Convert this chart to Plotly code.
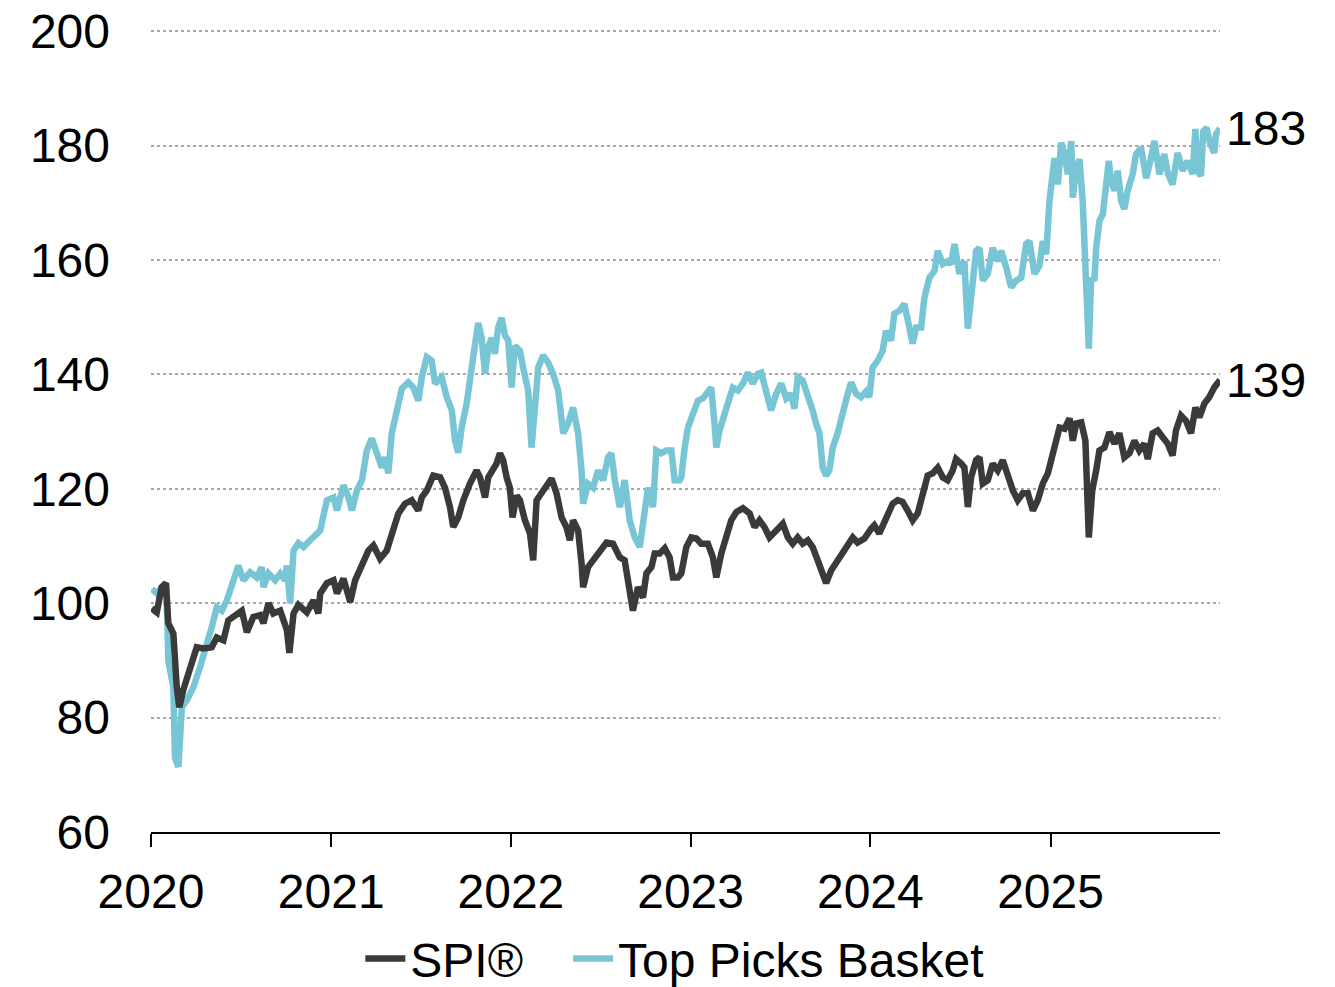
import plotly.graph_objects as go
import pandas as pd

# time positions as fractional years since 2020-01-01, values indexed to 100
spi_years = [
    0.004, 0.032, 0.059, 0.083, 0.096, 0.124, 0.143, 0.157, 0.179, 0.217,
    0.254, 0.291, 0.337, 0.365, 0.402, 0.429, 0.476, 0.504, 0.532, 0.568,
    0.606, 0.624, 0.652, 0.679, 0.717, 0.754, 0.768, 0.791, 0.818, 0.865,
    0.902, 0.929, 0.939, 0.976, 1.013, 1.032, 1.068, 1.106, 1.133, 1.171,
    1.207, 1.235, 1.272, 1.309, 1.337, 1.374, 1.411, 1.448, 1.485, 1.504,
    1.532, 1.568, 1.606, 1.633, 1.661, 1.679, 1.707, 1.735, 1.772, 1.809,
    1.828, 1.856, 1.874, 1.902, 1.920, 1.939, 1.957, 1.976, 1.994, 2.009,
    2.032, 2.050, 2.078, 2.106, 2.124, 2.143, 2.171, 2.198, 2.226, 2.254,
    2.282, 2.309, 2.328, 2.346, 2.374, 2.393, 2.402, 2.429, 2.457, 2.494,
    2.532, 2.568, 2.606, 2.633, 2.661, 2.679, 2.707, 2.735, 2.754, 2.782,
    2.800, 2.828, 2.856, 2.883, 2.902, 2.929, 2.948, 2.976, 3.004, 3.032,
    3.059, 3.096, 3.124, 3.143, 3.171, 3.198, 3.226, 3.254, 3.291, 3.328,
    3.356, 3.383, 3.411, 3.439, 3.476, 3.513, 3.541, 3.568, 3.596, 3.624,
    3.652, 3.679, 3.707, 3.735, 3.754, 3.782, 3.809, 3.846, 3.874, 3.902,
    3.929, 3.967, 4.004, 4.022, 4.050, 4.087, 4.124, 4.152, 4.179, 4.207,
    4.235, 4.263, 4.291, 4.318, 4.346, 4.374, 4.402, 4.429, 4.457, 4.476,
    4.504, 4.522, 4.541, 4.559, 4.587, 4.606, 4.624, 4.652, 4.679, 4.707,
    4.735, 4.763, 4.791, 4.818, 4.846, 4.874, 4.902, 4.929, 4.957, 4.985,
    5.013, 5.041, 5.050, 5.078, 5.106, 5.124, 5.143, 5.171, 5.194, 5.213,
    5.232, 5.254, 5.272, 5.300, 5.328, 5.356, 5.383, 5.411, 5.439, 5.467,
    5.494, 5.522, 5.541, 5.568, 5.596, 5.624, 5.652, 5.679, 5.698, 5.726,
    5.754, 5.782, 5.806, 5.828, 5.856, 5.883, 5.911, 5.943,
]
spi_values = [
    99.1, 98.4, 102.8, 103.5, 96.5, 94.7, 85.3, 81.8, 84.8, 88.8,
    92.3, 92.1, 92.3, 94.0, 93.5, 97.0, 98.2, 98.7, 94.9, 97.6,
    97.9, 96.5, 100.0, 98.2, 98.7, 95.3, 91.3, 98.2, 99.7, 98.4,
    100.5, 98.2, 101.7, 103.5, 104.0, 101.7, 104.3, 100.2, 104.0, 107.0,
    109.2, 110.1, 107.8, 109.2, 112.2, 115.7, 117.4, 118.0, 116.2, 118.5,
    119.7, 122.3, 122.0, 120.2, 116.8, 113.3, 115.0, 118.0, 120.9, 123.2,
    122.0, 118.5, 122.0, 123.7, 124.4, 126.2, 125.0, 122.0, 120.2, 115.0,
    118.8, 118.0, 114.5, 112.2, 107.5, 118.0, 119.2, 120.2, 121.8, 119.2,
    115.0, 113.3, 111.0, 114.5, 112.7, 107.0, 102.8, 106.3, 107.5, 109.2,
    110.6, 110.4, 108.0, 107.5, 102.8, 98.7, 102.8, 101.0, 105.2, 106.3,
    108.7, 108.7, 109.6, 108.0, 104.5, 104.5, 105.2, 109.8, 111.5, 111.3,
    110.4, 110.4, 108.0, 104.5, 108.7, 111.5, 114.5, 115.9, 116.6, 115.7,
    113.3, 114.5, 113.3, 111.5, 112.7, 113.9, 111.5, 110.4, 111.5, 110.4,
    111.0, 109.8, 107.5, 105.2, 103.5, 105.7, 107.0, 108.7, 110.4, 111.5,
    110.6, 111.3, 113.0, 113.6, 112.2, 114.5, 117.4, 118.0, 117.7, 116.2,
    114.5, 115.7, 119.2, 122.3, 122.7, 123.7, 122.0, 121.5, 123.2, 125.2,
    124.4, 123.7, 116.8, 122.0, 125.0, 125.5, 120.9, 121.5, 124.4, 123.2,
    125.0, 122.0, 119.7, 118.0, 119.2, 119.2, 116.2, 118.0, 120.9, 122.7,
    126.5, 129.7, 130.7, 130.5, 132.3, 128.4, 131.4, 131.6, 128.4, 111.5,
    119.7, 123.2, 126.7, 127.2, 129.9, 127.9, 129.7, 125.5, 126.2, 128.4,
    126.7, 127.9, 125.2, 129.7, 130.2, 129.0, 127.9, 125.8, 130.2, 132.8,
    131.9, 129.7, 134.2, 132.5, 134.9, 136.0, 137.7, 139.0,
]

top_years = [
    0.004, 0.032, 0.068, 0.083, 0.091, 0.096, 0.124, 0.133, 0.152, 0.161,
    0.171, 0.198, 0.235, 0.272, 0.309, 0.337, 0.365, 0.393, 0.421, 0.457,
    0.485, 0.513, 0.550, 0.587, 0.615, 0.624, 0.652, 0.689, 0.717, 0.744,
    0.754, 0.772, 0.791, 0.818, 0.846, 0.883, 0.921, 0.939, 0.976, 1.013,
    1.032, 1.068, 1.096, 1.115, 1.143, 1.171, 1.198, 1.226, 1.254, 1.282,
    1.300, 1.318, 1.337, 1.365, 1.393, 1.429, 1.457, 1.485, 1.504, 1.532,
    1.559, 1.578, 1.615, 1.643, 1.671, 1.689, 1.707, 1.726, 1.754, 1.782,
    1.800, 1.818, 1.837, 1.856, 1.874, 1.893, 1.911, 1.929, 1.948, 1.967,
    1.985, 2.004, 2.022, 2.050, 2.068, 2.096, 2.115, 2.133, 2.152, 2.179,
    2.207, 2.235, 2.263, 2.291, 2.318, 2.346, 2.374, 2.393, 2.402, 2.429,
    2.457, 2.485, 2.513, 2.541, 2.559, 2.578, 2.606, 2.633, 2.661, 2.689,
    2.717, 2.735, 2.763, 2.791, 2.809, 2.837, 2.865, 2.893, 2.911, 2.939,
    2.948, 2.967, 2.985, 3.013, 3.041, 3.068, 3.096, 3.115, 3.133, 3.143,
    3.161, 3.179, 3.207, 3.235, 3.263, 3.291, 3.318, 3.346, 3.374, 3.393,
    3.421, 3.448, 3.476, 3.504, 3.532, 3.559, 3.578, 3.596, 3.624, 3.652,
    3.679, 3.698, 3.717, 3.735, 3.754, 3.772, 3.791, 3.818, 3.846, 3.874,
    3.893, 3.921, 3.948, 3.976, 3.994, 4.013, 4.041, 4.068, 4.087, 4.115,
    4.133, 4.161, 4.189, 4.207, 4.235, 4.254, 4.282, 4.300, 4.328, 4.356,
    4.374, 4.402, 4.429, 4.448, 4.467, 4.494, 4.522, 4.541, 4.559, 4.587,
    4.606, 4.624, 4.652, 4.679, 4.707, 4.726, 4.754, 4.782, 4.809, 4.837,
    4.865, 4.883, 4.911, 4.939, 4.957, 4.976, 4.994, 5.022, 5.041, 5.059,
    5.078, 5.096, 5.115, 5.124, 5.143, 5.161, 5.179, 5.198, 5.213, 5.226,
    5.244, 5.254, 5.272, 5.291, 5.309, 5.324, 5.337, 5.356, 5.374, 5.393,
    5.411, 5.429, 5.457, 5.476, 5.504, 5.532, 5.559, 5.578, 5.606, 5.633,
    5.652, 5.679, 5.707, 5.735, 5.763, 5.791, 5.806, 5.818, 5.837, 5.850,
    5.868, 5.887, 5.911, 5.921, 5.943,
]
top_values = [
    102.5, 101.7, 103.0, 103.5, 97.0, 90.0, 85.3, 73.0, 71.4, 77.3,
    81.8, 83.0, 85.3, 88.8, 92.3, 95.8, 99.3, 98.7, 100.5, 103.5,
    106.6, 104.0, 105.4, 104.5, 106.3, 102.8, 105.2, 104.0, 105.2, 104.0,
    106.6, 100.0, 109.2, 110.5, 109.8, 111.0, 112.2, 112.7, 118.0, 118.5,
    116.2, 120.6, 118.5, 116.2, 119.7, 121.5, 126.7, 128.8, 126.2, 123.7,
    125.5, 122.7, 129.7, 134.2, 137.5, 138.6, 137.7, 135.4, 139.5, 143.0,
    142.4, 138.4, 139.5, 136.0, 133.7, 128.4, 126.3, 130.7, 134.9, 141.2,
    145.9, 149.0, 146.4, 140.1, 144.7, 146.4, 143.6, 148.2, 149.9, 146.8,
    145.9, 137.7, 145.0, 144.1, 141.2, 137.2, 127.2, 133.7, 141.2, 143.3,
    142.1, 140.1, 137.2, 129.7, 131.4, 134.2, 129.7, 123.2, 117.4, 120.9,
    120.2, 123.2, 121.5, 125.5, 126.2, 121.5, 116.8, 121.5, 114.5, 111.5,
    109.8, 113.9, 120.2, 116.8, 126.7, 126.2, 126.7, 126.7, 121.5, 121.5,
    122.0, 127.2, 130.7, 133.1, 135.4, 135.8, 136.8, 137.7, 131.4, 127.2,
    130.2, 132.5, 134.9, 137.7, 137.2, 138.4, 140.3, 138.4, 140.1, 140.3,
    137.2, 133.7, 136.6, 138.4, 135.8, 136.6, 134.0, 139.5, 138.9, 136.6,
    133.7, 131.4, 129.7, 123.7, 122.3, 123.2, 127.2, 129.7, 133.7, 136.6,
    138.6, 136.6, 136.0, 137.0, 136.0, 141.2, 142.4, 144.1, 147.6, 145.9,
    150.6, 151.1, 152.3, 149.4, 145.4, 148.2, 148.2, 153.4, 156.9, 158.1,
    161.6, 159.3, 159.8, 159.3, 162.8, 157.6, 159.8, 148.0, 154.1, 161.6,
    162.1, 156.4, 157.6, 162.1, 159.8, 161.6, 158.7, 155.2, 156.4, 156.9,
    162.8, 163.3, 157.6, 159.0, 163.3, 161.0, 170.3, 177.8, 173.2, 180.5,
    178.5, 175.0, 180.8, 170.9, 176.1, 177.6, 170.3, 158.7, 144.5, 156.9,
    156.4, 162.1, 166.8, 168.0, 174.3, 177.3, 173.8, 172.1, 175.6, 170.3,
    168.9, 172.1, 175.0, 178.5, 179.6, 174.3, 177.8, 180.8, 175.0, 178.5,
    175.2, 173.2, 178.7, 175.6, 177.3, 175.0, 182.9, 175.6, 174.7, 182.5,
    183.1, 180.5, 178.7, 182.0, 183.0,
]

y_ticks = [60, 80, 100, 120, 140, 160, 180, 200]
year_ticks = ["2020", "2021", "2022", "2023", "2024", "2025"]

SPI_COLOR = "#3a3b39"
TOP_COLOR = "#77c5d5"
FONT = "Liberation Sans, Arial, sans-serif"


def to_dates(years):
    """Turn fractional years since 2020 into timestamps."""
    out = []
    for t in years:
        yr = 2020 + int(t)
        start = pd.Timestamp(year=yr, month=1, day=1)
        days = (pd.Timestamp(year=yr + 1, month=1, day=1) - start).days
        out.append(start + pd.Timedelta(days=(t - int(t)) * days))
    return out


spi_dates = to_dates(spi_years)
top_dates = to_dates(top_years)
end_date = max(spi_dates[-1], top_dates[-1])

fig = go.Figure()

fig.add_trace(go.Scatter(
    x=top_dates, y=top_values,
    name="Top Picks Basket", mode="lines",
    line=dict(color=TOP_COLOR, width=6.5),
    legendrank=2,
))

fig.add_trace(go.Scatter(
    x=spi_dates, y=spi_values,
    name="SPI®\u00a0\u00a0\u00a0", mode="lines",
    line=dict(color=SPI_COLOR, width=6.5),
    legendrank=1,
))

# end-of-series value labels
for d, v in [(top_dates[-1], top_values[-1]), (spi_dates[-1], spi_values[-1])]:
    fig.add_annotation(
        x=d, y=v, text=f"{round(v):d}", showarrow=False,
        xanchor="left", yanchor="middle", xshift=4,
        font=dict(size=48, color="black", family=FONT),
    )

# the page body keeps an 8px margin, so the figure is 8px smaller than the window
fig.update_layout(
    width=1327, height=979,
    margin=dict(l=143, r=115, t=22, b=155, autoexpand=False),
    paper_bgcolor="white", plot_bgcolor="white",
    font=dict(family=FONT, size=48, color="black"),
    showlegend=True,
    legend=dict(
        orientation="h", x=0.49, xanchor="center", y=-0.158, yanchor="middle",
        font=dict(size=48), itemwidth=40, tracegroupgap=0,
    ),
)

fig.update_xaxes(
    type="date",
    range=[pd.Timestamp("2020-01-01"), end_date],
    tickvals=[pd.Timestamp(f"{y}-01-01") for y in year_ticks],
    ticktext=year_ticks,
    showline=True, linecolor="black", linewidth=2,
    ticks="outside", ticklen=13, tickwidth=2, tickcolor="black",
    showgrid=False, zeroline=False,
    ticklabelstandoff=3, automargin=False,
)

fig.update_yaxes(
    range=[60, 200.2],
    tickvals=y_ticks,
    showline=False, ticks="",
    showgrid=True, gridcolor="#a8a8a8", gridwidth=1.5, griddash="dot",
    zeroline=False,
    ticklabelstandoff=40, automargin=False,
    ticklabeloverflow="allow",
)

fig.write_html("out.html")
